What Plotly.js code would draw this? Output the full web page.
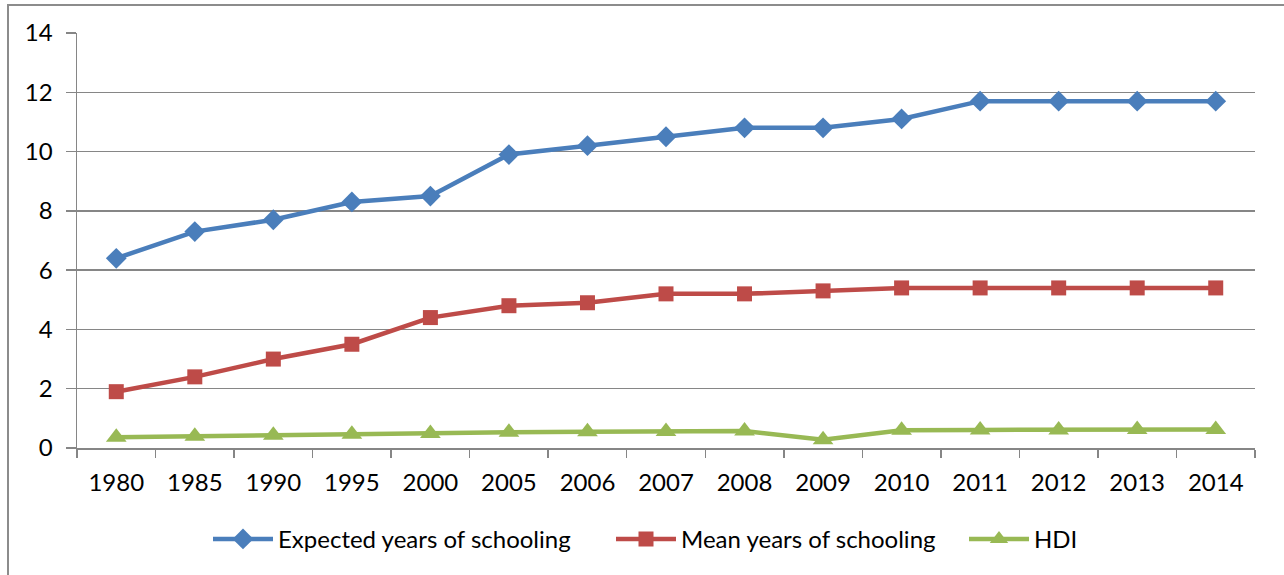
<!DOCTYPE html>
<html>
<head>
<meta charset="utf-8">
<script src="https://cdn.plot.ly/plotly-3.0.1.min.js"></script>
<style>
  html, body { margin: 0; padding: 0; background: #fff; }
  #chart { position: absolute; left: 0; top: 0; width: 1284px; height: 575px; }
  #frame { position: absolute; left: 7px; top: 4px; width: 1290px; height: 590px;
           border-left: 2px solid #8c8c8c; border-top: 2px solid #8c8c8c; pointer-events: none; }
</style>
</head>
<body>
<div id="chart"></div>
<div id="frame"></div>
<script>
// Years shown on the category axis
const years = ['1980', '1985', '1990', '1995', '2000', '2005', '2006', '2007',
               '2008', '2009', '2010', '2011', '2012', '2013', '2014'];

// Expected years of schooling
const expectedSchooling = [6.4, 7.3, 7.7, 8.3, 8.5, 9.9, 10.2, 10.5,
                           10.8, 10.8, 11.1, 11.7, 11.7, 11.7, 11.7];

// Mean years of schooling
const meanSchooling = [1.9, 2.4, 3.0, 3.5, 4.4, 4.8, 4.9, 5.2,
                       5.2, 5.3, 5.4, 5.4, 5.4, 5.4, 5.4];

// Human Development Index
const hdi = [0.36, 0.40, 0.43, 0.46, 0.49, 0.53, 0.55, 0.56,
             0.57, 0.28, 0.60, 0.61, 0.61, 0.62, 0.62];

// Y axis tick values
const yTicks = [0, 2, 4, 6, 8, 10, 12, 14];

const FONT = 'Lato, "Open Sans", sans-serif';
const FONT_SIZE = 24;
const GRID = '#868686';

const traces = [
  {
    x: years, y: expectedSchooling, name: 'Expected years of schooling',
    type: 'scatter', mode: 'lines+markers', legend: 'legend',
    line: { color: '#4A7EBB', width: 4.5 },
    marker: { symbol: 'diamond', size: 16, color: '#4A7EBB' }
  },
  {
    x: years, y: meanSchooling, name: 'Mean years of schooling',
    type: 'scatter', mode: 'lines+markers', legend: 'legend2',
    line: { color: '#BE4B48', width: 4.5 },
    marker: { symbol: 'square', size: 15, color: '#BE4B48' }
  },
  {
    x: years, y: hdi, name: 'HDI',
    type: 'scatter', mode: 'lines+markers', legend: 'legend3',
    line: { color: '#98B954', width: 4.5 },
    marker: { symbol: 'triangle-up', size: 18, color: '#98B954' }
  }
];

// One legend box per series, laid out in a row under the axis
function legendAt(xPx) {
  return {
    orientation: 'h', xref: 'container', x: xPx / 1284, xanchor: 'left',
    yref: 'container', y: 0.062, yanchor: 'middle',
    font: { family: FONT, size: FONT_SIZE, color: '#000000' },
    itemwidth: 60, bgcolor: 'rgba(0,0,0,0)'
  };
}

const layout = {
  width: 1284, height: 575,
  margin: { l: 77, r: 29, t: 33, b: 127 },
  paper_bgcolor: '#ffffff', plot_bgcolor: '#ffffff',
  font: { family: FONT, size: FONT_SIZE, color: '#000000' },
  showlegend: true,
  legend: legendAt(208),
  legend2: legendAt(611),
  legend3: legendAt(964),
  xaxis: {
    type: 'category',
    range: [-0.5, years.length - 0.5],
    showgrid: false,
    showline: true, linecolor: GRID, linewidth: 1.5,
    ticks: 'outside', tickson: 'boundaries', ticklen: 8, tickcolor: GRID, tickwidth: 1.5,
    ticklabelstandoff: 13,
    tickfont: { family: FONT, size: FONT_SIZE, color: '#000000' },
    fixedrange: true
  },
  yaxis: {
    range: [0, 14],
    tickvals: yTicks,
    ticktext: yTicks.map(String),
    showgrid: true, gridcolor: GRID, gridwidth: 1.5,
    showline: true, linecolor: GRID, linewidth: 1.5,
    zeroline: false,
    ticks: 'outside', ticklen: 10, tickcolor: GRID, tickwidth: 1.5,
    ticklabelstandoff: 8,
    tickfont: { family: FONT, size: FONT_SIZE, color: '#000000' },
    fixedrange: true
  }
};

Plotly.newPlot('chart', traces, layout, { displayModeBar: false, staticPlot: true });
</script>
</body>
</html>
